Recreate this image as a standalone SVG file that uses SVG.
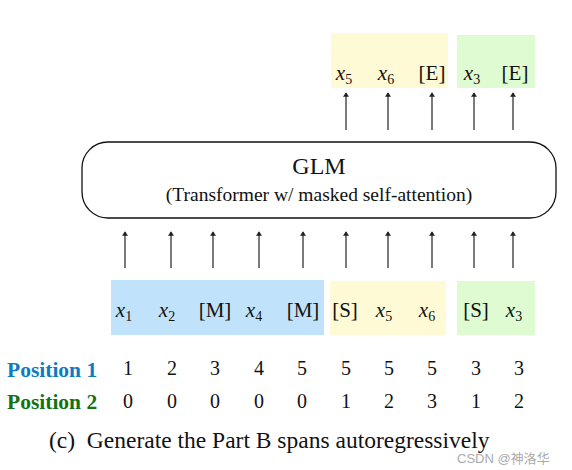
<svg xmlns="http://www.w3.org/2000/svg" width="572" height="470" viewBox="0 0 572 470">
<defs>
<style>
.t{font-family:"Liberation Serif","Times New Roman",serif;fill:#111;}
.tok{font-size:21px;text-anchor:middle;}
.it{font-style:italic;}
.sub{font-size:14px;font-style:normal;}
.num{font-size:20px;text-anchor:middle;}
.lbl{font-size:21.5px;font-weight:bold;}
.ar{stroke:#222;stroke-width:1.2;fill:none;marker-end:url(#ah);}
</style>
<marker id="ah" viewBox="0 0 6 8" refX="5" refY="4" markerWidth="5" markerHeight="6" orient="auto" markerUnits="userSpaceOnUse">
<path d="M0,0 L6,4 L0,8 z" fill="#222"/>
</marker>
</defs>
<rect width="572" height="470" fill="#fff"/>

<g id="output-yellow">
<rect x="331" y="33" width="117" height="55" fill="#fffad6"/>
<text class="t tok" y="80"><tspan x="344" class="it">x</tspan><tspan class="sub" dy="4">5</tspan></text>
<text class="t tok" y="80"><tspan x="386" class="it">x</tspan><tspan class="sub" dy="4">6</tspan></text>
<text class="t tok" x="432" y="80">[E]</text>
</g>
<g id="output-green">
<rect x="457" y="35" width="78" height="53" fill="#defbd2"/>
<text class="t tok" y="80"><tspan x="472" class="it">x</tspan><tspan class="sub" dy="4">3</tspan></text>
<text class="t tok" x="515" y="80">[E]</text>
</g>

<g id="glm">
<rect x="82" y="142" width="474" height="76" rx="26" ry="26" fill="#fff" stroke="#111" stroke-width="1.3"/>
<text class="t" x="319" y="174" font-size="24" text-anchor="middle">GLM</text>
<text class="t" x="319" y="201" font-size="19.5" text-anchor="middle">(Transformer w/ masked self-attention)</text>
</g>

<g id="input-blue">
<rect x="111" y="280" width="213" height="55" fill="#c0e3fb"/>
<text class="t tok" y="317"><tspan x="124" class="it">x</tspan><tspan class="sub" dy="4">1</tspan></text>
<text class="t tok" y="317"><tspan x="167" class="it">x</tspan><tspan class="sub" dy="4">2</tspan></text>
<text class="t tok" x="215" y="317">[M]</text>
<text class="t tok" y="317"><tspan x="254" class="it">x</tspan><tspan class="sub" dy="4">4</tspan></text>
<text class="t tok" x="303" y="317">[M]</text>
</g>
<g id="input-yellow">
<rect x="330" y="281" width="116" height="54" fill="#fffad6"/>
<text class="t tok" x="345" y="317">[S]</text>
<text class="t tok" y="317"><tspan x="384" class="it">x</tspan><tspan class="sub" dy="4">5</tspan></text>
<text class="t tok" y="317"><tspan x="427" class="it">x</tspan><tspan class="sub" dy="4">6</tspan></text>
</g>
<g id="input-green">
<rect x="457" y="281" width="78" height="54" fill="#defbd2"/>
<text class="t tok" x="476" y="317">[S]</text>
<text class="t tok" y="317"><tspan x="514" class="it">x</tspan><tspan class="sub" dy="4">3</tspan></text>
</g>

<g id="connectors">
<path class="ar" d="M125,268 V232"/>
<path class="ar" d="M171,268 V232"/>
<path class="ar" d="M213,268 V232"/>
<path class="ar" d="M259,268 V232"/>
<path class="ar" d="M303,268 V232"/>
<path class="ar" d="M346,268 V232"/>
<path class="ar" d="M388,268 V232"/>
<path class="ar" d="M432,268 V232"/>
<path class="ar" d="M474,268 V232"/>
<path class="ar" d="M513,268 V232"/>
<path class="ar" d="M346,130 V93"/>
<path class="ar" d="M388,130 V93"/>
<path class="ar" d="M432,130 V93"/>
<path class="ar" d="M474,130 V93"/>
<path class="ar" d="M513,130 V93"/>
</g>

<g id="positions">
<text class="t lbl" x="7" y="377" style="fill:#0f7bbf">Position 1</text>
<text class="t lbl" x="7" y="409" style="fill:#137313">Position 2</text>
<g class="t num">
<text x="128" y="375">1</text><text x="172" y="375">2</text><text x="215" y="375">3</text><text x="259" y="375">4</text><text x="302" y="375">5</text>
<text x="346" y="375">5</text><text x="389" y="375">5</text><text x="432" y="375">5</text><text x="476" y="375">3</text><text x="519" y="375">3</text>
<text x="128" y="408">0</text><text x="172" y="408">0</text><text x="215" y="408">0</text><text x="259" y="408">0</text><text x="302" y="408">0</text>
<text x="346" y="408">1</text><text x="389" y="408">2</text><text x="432" y="408">3</text><text x="476" y="408">1</text><text x="519" y="408">2</text>
</g>
</g>

<text class="t" x="49" y="448" font-size="23.5" xml:space="preserve">(c)  Generate the Part B spans autoregressively</text>
<text x="457" y="463" font-size="13" style="font-family:'Liberation Sans','Noto Sans CJK SC',sans-serif;fill:#aaa">CSDN @神洛华</text>
</svg>
